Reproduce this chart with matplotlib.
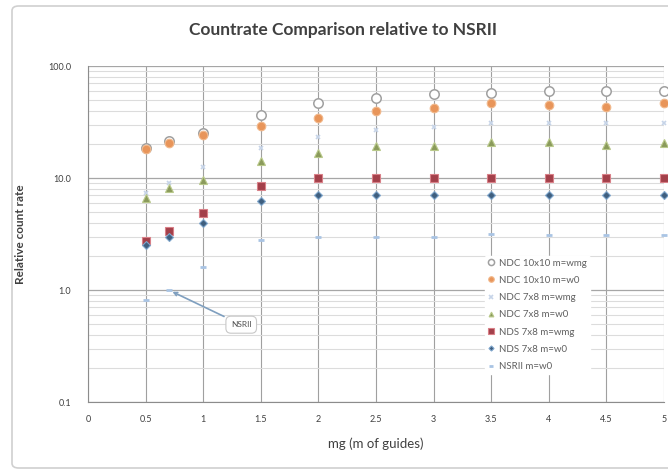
import matplotlib
matplotlib.use('agg')
import matplotlib.pyplot as plt
from matplotlib.patches import FancyBboxPatch
from matplotlib.ticker import FixedLocator, LogLocator, NullFormatter

# data
mg = [0.5, 0.7, 1, 1.5, 2, 2.5, 3, 3.5, 4, 4.5, 5]

ndc10_wmg = [18.5, 21.4, 25.2, 36.5, 46.8, 51.8, 56.0, 57.5, 59.8, 60.0, 60.0]
ndc10_w0 = [18.0, 20.5, 24.2, 29.1, 34.3, 39.7, 42.0, 46.8, 45.0, 43.0, 47.0]
ndc78_wmg = [7.3, 9.0, 12.5, 18.5, 23.2, 26.8, 28.5, 30.9, 31.0, 31.0, 31.0]
ndc78_w0 = [6.6, 8.1, 9.6, 14.2, 16.7, 19.3, 19.3, 21.0, 21.0, 19.7, 20.5]
nds78_wmg = [2.74, 3.36, 4.9, 8.5, 10.0, 10.0, 10.0, 10.0, 10.0, 10.0, 10.0]
nds78_w0 = [2.52, 2.97, 3.96, 6.2, 7.1, 7.05, 7.0, 7.1, 7.1, 7.0, 7.0]
nsrii_w0 = [0.81, 1.0, 1.6, 2.8, 2.97, 3.0, 3.0, 3.15, 3.1, 3.1, 3.1]

labels = ['NDC 10x10 m=wmg', 'NDC 10x10 m=w0', 'NDC 7x8 m=wmg', 'NDC 7x8 m=w0',
          'NDS 7x8 m=wmg', 'NDS 7x8 m=w0', 'NSRII m=w0']
x_ticks = [0, 0.5, 1, 1.5, 2, 2.5, 3, 3.5, 4, 4.5, 5]
x_ticklabels = ['0', '0.5', '1', '1.5', '2', '2.5', '3', '3.5', '4', '4.5', '5']
y_ticks = [0.1, 1, 10, 100]
y_ticklabels = ['0.1', '1.0', '10.0', '100.0']

plt.rcParams['font.family'] = ['Lato', 'DejaVu Sans']
txt = '#404040'

fig = plt.figure(figsize=(6.68, 4.74), dpi=100)
ax = fig.add_axes([88 / 668, 72 / 474, 576 / 668, 336 / 474])

# outer chart border
fig.patches.append(FancyBboxPatch((12 / 668, 6 / 474), 670 / 668, 462 / 474,
                                  boxstyle='round,pad=0,rounding_size=0.01',
                                  transform=fig.transFigure, fill=False,
                                  edgecolor='#d0d0d0', linewidth=1.2))

series = [
    (ndc10_wmg, dict(marker='o', ms=6.8, mfc='white', mec='#a0a0a0', mew=1.1)),
    (ndc10_w0, dict(marker='o', ms=6.2, mfc='#e8955a', mec='#f2b98c', mew=0.8)),
    (ndc78_wmg, dict(marker='x', ms=3.5, mfc='#c6d4e8', mec='#c6d4e8', mew=1.2)),
    (ndc78_w0, dict(marker='^', ms=5.3, mfc='#8a9a5b', mec='#b9c98a', mew=0.8)),
    (nds78_wmg, dict(marker='s', ms=6.3, mfc='#a3404a', mec='#d98088', mew=0.8)),
    (nds78_w0, dict(marker='D', ms=4.0, mfc='#3f5f7f', mec='#7fa6cc', mew=0.8)),
    (nsrii_w0, dict(marker='_', ms=4, mfc='#a9c4e4', mec='#a9c4e4', mew=2)),
]
for (vals, style), lab in zip(series, labels):
    ax.plot(mg, vals, linestyle='none', label=lab, clip_on=False, zorder=3, **style)

ax.set_yscale('log')
ax.set_xlim(0, 5)
ax.set_ylim(0.1, 100)

ax.xaxis.set_major_locator(FixedLocator(x_ticks))
ax.set_xticklabels(x_ticklabels)
ax.yaxis.set_major_locator(FixedLocator(y_ticks))
ax.set_yticklabels(y_ticklabels)
ax.yaxis.set_minor_locator(LogLocator(base=10, subs=range(2, 10)))
ax.yaxis.set_minor_formatter(NullFormatter())

ax.grid(True, which='major', axis='y', color='#a6a6a6', linewidth=0.9)
ax.grid(True, which='minor', axis='y', color='#dcdcdc', linewidth=0.8)
ax.grid(True, which='major', axis='x', color='#a0a0a0', linewidth=0.8)
ax.set_axisbelow(True)

for side in ['top', 'right']:
    ax.spines[side].set_visible(False)
for side in ['left', 'bottom']:
    ax.spines[side].set_color('#8c8c8c')
ax.tick_params(which='both', length=0, labelsize=6.5, colors=txt, pad=9)
ax.tick_params(axis='y', pad=12)

ax.set_xlabel('mg (m of guides)', fontsize=9.5, color=txt, labelpad=10)
ax.set_ylabel('Relative count rate', fontsize=8.5, color=txt, fontweight='bold', labelpad=16)
fig.text(0.513, 0.937, 'Countrate Comparison relative to NSRII', ha='center', va='center',
         fontsize=12.5, fontweight='bold', color='#404040')

leg = ax.legend(loc='upper left', bbox_to_anchor=(0.68, 0.45), fontsize=7,
                frameon=True, framealpha=1, edgecolor='white', labelspacing=0.85,
                handlelength=0.8, handletextpad=0.4, borderpad=0.3, markerscale=0.65)
for t in leg.get_texts():
    t.set_color('#606060')

ax.annotate('NSRII', xy=(0.7, nsrii_w0[1]), xytext=(1.33, 0.49), fontsize=6,
            color='#505050', ha='center', va='center',
            bbox=dict(boxstyle='round,pad=0.6', fc='white', ec='#c8c8c8', lw=0.8),
            arrowprops=dict(arrowstyle='->', color='#7f9fbf', lw=1.2, shrinkA=2, shrinkB=3))

plt.savefig('out.png', dpi=100)
